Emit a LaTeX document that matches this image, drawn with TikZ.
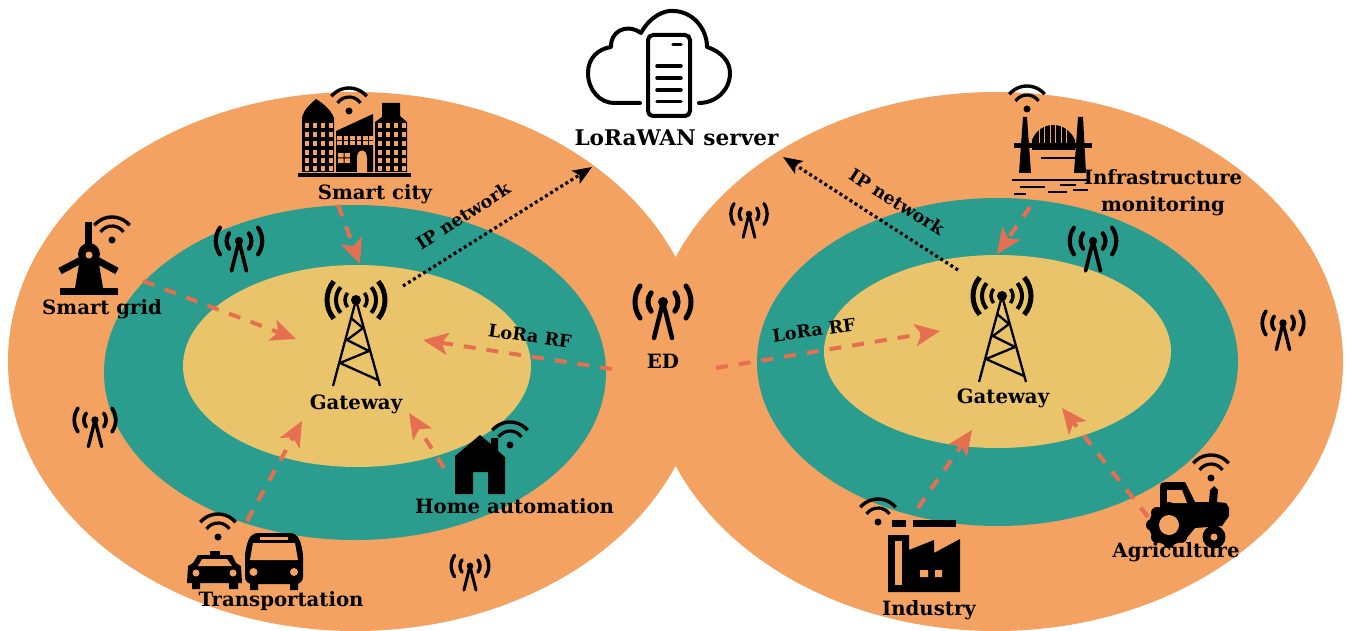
\documentclass[tikz,border=0pt]{standalone}
\usepackage{fontspec}
\setmainfont{DejaVu Serif}
\usetikzlibrary{arrows.meta}
\definecolor{sand}{HTML}{F4A261}
\definecolor{tealz}{HTML}{2A9D8F}
\definecolor{mustard}{HTML}{E9C46A}
\definecolor{coral}{HTML}{E76F51}
\tikzset{
  rfarrow/.style={draw=coral,line width=4pt,dash pattern=on 12pt off 11pt,-{Stealth[length=25pt,width=22pt,inset=6pt,fill=coral]}},
  iparrow/.style={draw=black,line width=3.2pt,dash pattern=on 3pt off 3pt,-{Stealth[length=19pt,width=15pt,inset=4pt,fill=black]}},
  lab/.style={font=\bfseries\fontsize{19.7}{23}\selectfont,inner sep=0pt,text=black},
  srvlab/.style={font=\bfseries\fontsize{21.6}{25}\selectfont,inner sep=0pt,text=black},
  rflab/.style={font=\bfseries\fontsize{17.6}{21}\selectfont,inner sep=0pt,text=black},
  blk/.style={fill=black,draw=none},
  hole/.style={fill=sand,draw=none},
}
\newcommand{\wifi}[2]{%
  \fill[black] (#1,#2) circle (3.5);
  \draw[line width=3.2pt] (#1,#2) ++(215:14) arc (215:325:14);
  \draw[line width=3.4pt] (#1,#2) ++(220:23) arc (220:320:23);
}
\newcommand{\antenna}[3]{%
  \begin{scope}[shift={(#1,#2)},scale=#3,line cap=round]
    \fill[black] (0,0) circle (5);
    \draw[line width=#3*4.5pt] (0,0) -- (-9,36) (0,0) -- (9,36);
    \foreach \r/\g in {15/38,28/35}{
      \draw[line width=#3*5pt] (0,0) ++(180-\g:\r) arc (180-\g:180+\g:\r);
      \draw[line width=#3*5pt] (0,0) ++(-\g:\r) arc (-\g:\g:\r);
    }
  \end{scope}
}
\newcommand{\tower}[2]{%
  \begin{scope}[shift={(#1,#2)}]
    \fill[black] (0,0) circle (5);
    \foreach \r/\w in {11/3.5,20/4,29/5}{
      \draw[line width=\w pt] (0,0) ++(140:\r) arc (140:220:\r);
      \draw[line width=\w pt] (0,0) ++(-40:\r) arc (-40:40:\r);
    }
    \draw[line width=2.3pt,line join=bevel] (-23,86) -- (0,0) -- (24,86)
      (22,80) -- (-16,63) -- (13,51) -- (-9,40) -- (7,28) -- (-5,18);
  \end{scope}
}
\begin{document}
\begin{tikzpicture}[x=1pt,y=-1pt]
\useasboundingbox (0,0) rectangle (1346,631);
\fill[white] (0,0) rectangle (1346,631);
% zones
\fill[sand] (355.3,361.5) ellipse [x radius=347.3,y radius=269.5];
\fill[sand] (995.8,361.5) ellipse [x radius=347.2,y radius=269.5];
\fill[tealz] (355,372.5) ellipse [x radius=251,y radius=167.5];
\fill[tealz] (997.5,362) ellipse [x radius=240.5,y radius=164];
\fill[mustard] (357,366) ellipse [x radius=174,y radius=101];
\fill[mustard] (997.5,351.5) ellipse [x radius=173.5,y radius=96.5];

% cloud server
\draw[line width=4pt,line cap=round,line join=round]
 (640,103) -- (614,103) .. controls (600,103) and (588,90) .. (588,73)
 .. controls (588,58) and (598,49) .. (611,47)
 .. controls (610,33) and (625,22) .. (641,33)
 .. controls (650,16) and (665,10) .. (673,11)
 .. controls (692,11) and (707,28) .. (707,47)
 .. controls (722,52) and (730,62) .. (730,73)
 .. controls (730,90) and (716,103) .. (699,103);
\draw[line width=4pt,rounded corners=5pt] (648,35) rectangle (690,116);
\draw[line width=3.5pt,line cap=round] (673,44.5) -- (681,44.5)
 (657,66) -- (681,66) (657,78) -- (681,78) (657,90) -- (681,90) (657,101.5) -- (681,101.5);
\node[srvlab] (server) at (676.5,138) {LoRaWAN server};

% smart city
\wifi{349}{111}
\fill[blk] (298,173) rectangle (411,177);
\fill[blk] (302,172) -- (302,117) .. controls (304,110) and (310,104) .. (316,99) .. controls (324,104) and (331,110) .. (334,118) -- (334,172) -- cycle;
\fill[blk] (375,172) -- (375,122) -- (382,117) -- (382,103) -- (400,103) -- (400,116) -- (407,122) -- (407,172) -- cycle;
\foreach \cx in {305,313,321,329}{\foreach \cy in {123,132,141,150,158,166}{
  \fill[hole] (\cx,\cy) rectangle ++(4,5);
}}
\foreach \cx in {378,386,394,402}{\foreach \cy in {123,132,141,150,158,166}{
  \fill[hole] (\cx,\cy) rectangle ++(3.5,5);
}}
\fill[blk] (336,172) -- (336,131) -- (373,114) -- (373,172) -- cycle;
\foreach \cx in {337,343.5,350,356.5,363,369}{
  \fill[hole] (\cx,136) rectangle ++(4.5,4); \fill[hole] (\cx,141.5) rectangle ++(4.5,3.5);
}
\fill[hole] (338,153) rectangle (350,163);
\fill[black] (343.5,153) rectangle (344.5,163) (338,157.5) rectangle (350,158.5);
\fill[hole] (357,172) -- (357,158) .. controls (357,148) and (367,148) .. (367,158) -- (367,172) -- cycle;
\node[lab] (smartcity) at (375,194) {Smart city};

% smart grid
\wifi{112}{240}
\fill[blk] (85,222) rectangle (92,250);
\draw[line width=7pt] (60,271) -- (85,258) (117,271) -- (93,258);
\fill[blk] (80,258) -- (98,258) -- (103,288) -- (75,288) -- cycle;
\fill[blk] (60,288) rectangle (118,295);
\fill[blk] (89,254) circle (11);
\fill[hole] (89,255) circle (3.5);
\node[lab] (smartgrid) at (102,309) {Smart grid};

% gateways
\tower{356}{300}
\node[lab] (gwl) at (356,404) {Gateway};
\tower{1002}{296}
\node[lab] (gwr) at (1003,398) {Gateway};

% ED antennas
\antenna{663}{302}{1}
\node[lab] (ed) at (663,361) {ED};
\antenna{239}{241}{0.83}
\antenna{749}{214}{0.65}
\antenna{1093}{241}{0.83}
\antenna{1283}{323}{0.74}
\antenna{95}{420}{0.74}
\antenna{470}{566}{0.67}

% house
\wifi{510}{445}
\fill[blk] (455,456) -- (480,435) -- (491,444) -- (491,438) -- (498,438) -- (498,451) -- (505,457) -- (505,494) -- (488,494) -- (488,472) -- (473,472) -- (473,494) -- (455,494) -- cycle;
\node[lab] (home) at (514.5,506) {Home automation};

% transport
\wifi{218}{537}
\fill[blk] (210,551) rectangle (220,556);
\fill[blk] (198,555) -- (232,555) -- (236,563) -- (241,566) -- (242,583) -- (238,583) -- (238,589) -- (229,589) -- (229,583) -- (200,583) -- (200,589) -- (192,589) -- (192,583) -- (187,583) -- (188,566) -- (193,563) -- cycle;
\fill[hole] (202,559) -- (227,559) -- (232,566) -- (198,566) -- cycle;
\fill[hole] (196,573) circle (3.5) (233,573) circle (3.5);
\fill[blk,rounded corners=7pt] (245,584) -- (245,550) -- (251,533) -- (297,533) -- (303,550) -- (303,584) -- cycle;
\fill[blk] (250,580) rectangle (258,590) (290,580) rectangle (298,590);
\fill[hole] (250,560) -- (253,543) -- (295,543) -- (298,560) -- cycle;
\fill[hole] (260,537) rectangle (288,540);
\fill[hole] (253.5,572) circle (4) (294,572) circle (4);
\node[lab] (transport) at (281,601) {Transportation};

% bridge
\wifi{1027}{109}
\fill[blk] (1023,117) -- (1027,117) -- (1031,173) -- (1019,173) -- cycle;
\fill[blk] (1078,117) -- (1083,117) -- (1086,173) -- (1074,173) -- cycle;
\fill[blk] (1014,143) rectangle (1036,148);
\fill[blk] (1064,143) rectangle (1092,148);
\fill[blk] (1032,150) -- (1032,140) .. controls (1040,120) and (1066,120) .. (1075,140) -- (1075,150) -- cycle;
\foreach \sx in {1039,1044,1050,1055,1061,1066}{\fill[hole] (\sx,122) rectangle ++(1.3,21);}
\draw[line width=1.8pt] (1041,158) -- (1076,158);
\draw[line width=2pt] (1012,180) -- (1087,180) (1020,187) -- (1045,187) (1060,185) -- (1076,185)
 (1048,192) -- (1067,192) (1073,190) -- (1088,190) (1014,194) -- (1026,194);
\node[lab,align=center] (infra) at (1163,192.5) {Infrastructure\\[4pt]monitoring};

% factory
\wifi{878}{522}
\fill[blk] (892,520) rectangle (906,527);
\fill[blk] (913,520) rectangle (956,527);
\fill[blk] (888,535) -- (909,535) -- (909,550) -- (934,540) -- (934,553) -- (960,539) -- (960,592) -- (888,592) -- cycle;
\fill[hole] (895,541) rectangle (902,585);
\fill[hole] (920,570) rectangle (928,577) (935,570) rectangle (942,577);
\node[lab] (industry) at (929,610) {Industry};

% tractor
\wifi{1211}{478}
\fill[blk] (1160,488) .. controls (1160,483) and (1162,482) .. (1165,482) -- (1185,482) -- (1195,502) -- (1209,502) -- (1210,490) -- (1214,486) -- (1218,490) -- (1217,502) -- (1226,503) -- (1229,508) -- (1229,516) -- (1222,526) -- (1195,528) -- (1185,540) -- (1160,530) -- cycle;
\fill[hole] (1167,490) -- (1182,490) -- (1187,503) -- (1167,503) -- cycle;
\fill[blk] (1169,525) circle (20);
\foreach \a in {0,45,...,315}{\fill[blk] (1169,525) ++(\a:17) circle (6);}
\fill[hole] (1169,525) circle (10);
\fill[blk] (1214,537) circle (11.5);
\fill[hole] (1214,537) circle (3.5);
\node[lab] (agri) at (1176,552) {Agriculture};

% connector ends
\coordinate (gl1) at (360,264);
\coordinate (gl2) at (296,339);
\coordinate (gl3) at (423,340);
\coordinate (gl4) at (302,421);
\coordinate (gl5) at (409,413);
\coordinate (gr1) at (940,331);
\coordinate (gr2) at (997,254);
\coordinate (gr3) at (972,430);
\coordinate (gr4) at (1062,408);
\coordinate (s1) at (338,205);
\coordinate (s2) at (143,281);
\coordinate (s3) at (612,369);
\coordinate (s4) at (247,521);
\coordinate (s5) at (444,468);
\coordinate (s6) at (716,368);
\coordinate (s7) at (1030,207);
\coordinate (s8) at (918,508);
\coordinate (s9) at (1148,517);
\coordinate (ipa) at (403,286);
\coordinate (ipb) at (592,167);
\coordinate (ipc) at (958,270);
\coordinate (ipd) at (783,157);
\draw[rfarrow] (s1) -- (gl1);
\draw[rfarrow] (s2) -- (gl2);
\draw[rfarrow] (s3) -- (gl3);
\draw[rfarrow] (s4) -- (gl4);
\draw[rfarrow] (s5) -- (gl5);
\draw[rfarrow] (s6) -- (gr1);
\draw[rfarrow] (s7) -- (gr2);
\draw[rfarrow] (s8) -- (gr3);
\draw[rfarrow] (s9) -- (gr4);
\draw[iparrow] (ipa) -- (ipb);
\draw[iparrow] (ipc) -- (ipd);
\node[rflab,rotate=33] (ipl) at (463,216) {IP network};
\node[rflab,rotate=-32] (ipr) at (897,202) {IP network};
\node[rflab,rotate=-8] (rfl) at (530,336) {LoRa RF};
\node[rflab,rotate=8] (rfr) at (814,330) {LoRa RF};
\end{tikzpicture}
\end{document}
